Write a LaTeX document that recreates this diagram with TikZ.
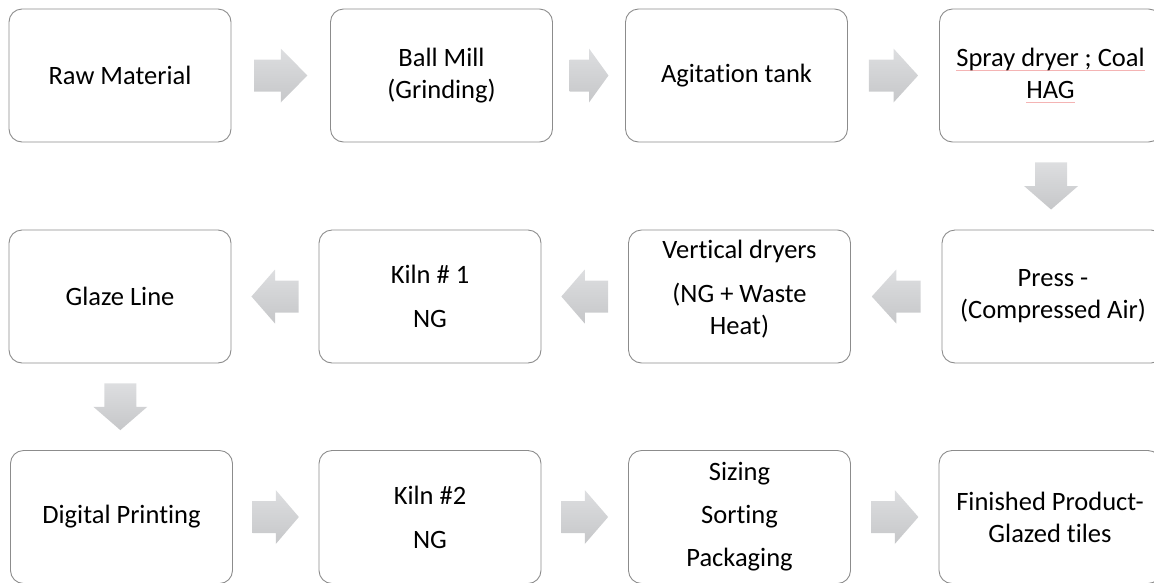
\documentclass[tikz,border=0pt]{standalone}
\usepackage{fontspec}
\setmainfont{Carlito}
\usetikzlibrary{calc}
\definecolor{boxline}{HTML}{8C8C8C}
\definecolor{arrtop}{HTML}{DDDEE0}
\definecolor{arrbot}{HTML}{C6C7C9}
\definecolor{squigc}{HTML}{F4B4B4}
\newcommand\tI{t\kern0pt i}
\newcommand\squig[1]{\setbox0\hbox{#1}\leavevmode\rlap{\textcolor{squigc}{\raisebox{-4pt}{\rule{\wd0}{0.6pt}}}}\box0}
\newcommand\harrow[2]{\path[flowarrow] let \p1=($(#1)!0.23!(#2)$), \p2=($(#1)!0.77!(#2)$), \p3=($(\p1)!0.5!(\p2)$) in
  (\x1,{\y1+16pt}) -- (\x3,{\y1+16pt}) -- (\x3,{\y1+27pt}) -- (\x2,\y1) -- (\x3,{\y1-27pt}) -- (\x3,{\y1-16pt}) -- (\x1,{\y1-16pt}) -- cycle;}
\newcommand\varrow[2]{\path[flowarrow] let \p1=($(#1)!0.23!(#2)$), \p2=($(#1)!0.77!(#2)$), \p3=($(\p1)!0.5!(\p2)$) in
  ({\x1+16pt},\y1) -- ({\x1+16pt},\y3) -- ({\x1+27pt},\y3) -- (\x1,\y2) -- ({\x1-27pt},\y3) -- ({\x1-16pt},\y3) -- ({\x1-16pt},\y1) -- cycle;}
\begin{document}
\begin{tikzpicture}[x=1pt,y=-1pt,
  stepbox/.style={draw=boxline, line width=0.9pt, rounded corners=13pt, minimum width=222pt, minimum height=133pt, align=center, font=\fontsize{26.5}{32}\selectfont, inner sep=0pt, text=black},
  flowarrow/.style={top color=arrtop, bottom color=arrbot, draw=none}]
\useasboundingbox (0,0) rectangle (1154,582);
% row 1
\node[stepbox] (A) at (120,75.5) {Raw Material};
\node[stepbox] (B) at (441.5,75.5) {Ball Mill\\(Grinding)};
\node[stepbox] (C) at (736.5,75.5) {Agita\tI on tank};
\node[stepbox] (D) at (1050.5,75.5) {\squig{Spray dryer ; Coal}\\\squig{HAG}};
% row 2
\node[stepbox] (H) at (1053,296.5) {Press -\\(Compressed Air)};
\node[stepbox, text depth=19pt] (G) at (739.5,296.5) {Ver\tI cal dryers\\[12pt](NG + Waste\\Heat)};
\node[stepbox] (F) at (430,296.5) {Kiln \# 1\\[12pt]NG};
\node[stepbox] (E) at (120,296.5) {Glaze Line};
% row 3
\node[stepbox] (I) at (121.5,517) {Digital Prin\tI ng};
\node[stepbox] (J) at (430,517) {Kiln \#2\\[12pt]NG};
\node[stepbox] (K) at (739.5,517) {Sizing\\[11pt]Sor\tI ng\\[11pt]Packaging};
\node[stepbox] (L) at (1050,517) {Finished Product-\\Glazed \tI les};
% arrows
\harrow{A.east}{B.west}
\harrow{B.east}{C.west}
\harrow{C.east}{D.west}
\varrow{D.south}{H.north}
\harrow{H.west}{G.east}
\harrow{G.west}{F.east}
\harrow{F.west}{E.east}
\varrow{E.south}{I.north}
\harrow{I.east}{J.west}
\harrow{J.east}{K.west}
\harrow{K.east}{L.west}
\end{tikzpicture}
\end{document}
